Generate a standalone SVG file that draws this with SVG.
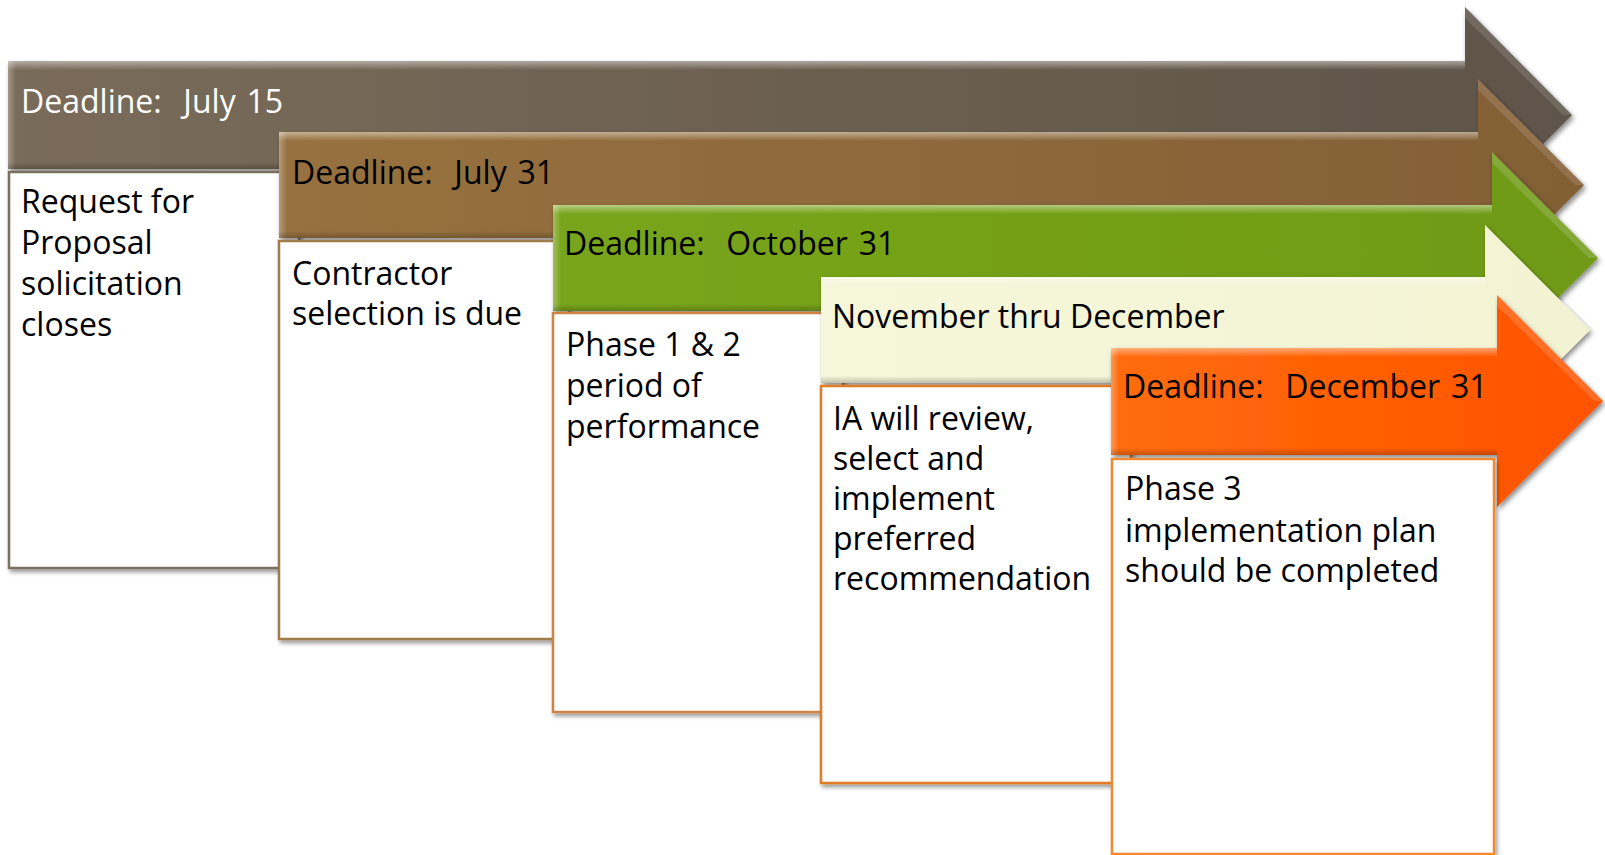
<svg xmlns="http://www.w3.org/2000/svg" width="1605" height="855" viewBox="0 0 1605 855">
<style>
  text { font-family: "Open Sans", "Liberation Sans", sans-serif; font-size: 32px; fill: #000; white-space: pre; }
  .dl { word-spacing: 2.5px; }
  .wt { fill: #ffffff; }
  .box { fill: #ffffff; stroke-width: 2.5; filter: url(#shB); }
  .arrow { filter: url(#shA); }
  .hlt { fill: url(#hlTop); }
  .hll { fill: url(#hlLeft); }
  .dkb { fill: url(#dkBot); }
</style>
<defs>
  <filter id="shA" x="-5%" y="-20%" width="110%" height="150%">
    <feDropShadow dx="2" dy="3" stdDeviation="2.5" flood-color="#000" flood-opacity="0.45"/>
  </filter>
  <filter id="shB" x="-5%" y="-5%" width="110%" height="115%">
    <feDropShadow dx="2" dy="3" stdDeviation="2" flood-color="#000" flood-opacity="0.4"/>
  </filter>
  <linearGradient id="g1" x1="0" y1="0" x2="1" y2="0"><stop offset="0" stop-color="#7a6c5a"/><stop offset="1" stop-color="#5d5448"/></linearGradient>
  <linearGradient id="g2" x1="0" y1="0" x2="1" y2="0"><stop offset="0" stop-color="#97713f"/><stop offset="1" stop-color="#835f36"/></linearGradient>
  <linearGradient id="g3" x1="0" y1="0" x2="1" y2="0"><stop offset="0" stop-color="#79a51b"/><stop offset="1" stop-color="#6f9a15"/></linearGradient>
  <linearGradient id="g4" x1="0" y1="0" x2="1" y2="0"><stop offset="0" stop-color="#f6f6da"/><stop offset="1" stop-color="#f3f3d4"/></linearGradient>
  <linearGradient id="g5" x1="0" y1="0" x2="1" y2="0"><stop offset="0" stop-color="#ff6c0a"/><stop offset="1" stop-color="#ff5200"/></linearGradient>
  <linearGradient id="hlTop" x1="0" y1="0" x2="0" y2="1"><stop offset="0" stop-color="#fff" stop-opacity="0.45"/><stop offset="1" stop-color="#fff" stop-opacity="0"/></linearGradient>
  <linearGradient id="hlLeft" x1="0" y1="0" x2="1" y2="0"><stop offset="0" stop-color="#fff" stop-opacity="0.3"/><stop offset="1" stop-color="#fff" stop-opacity="0"/></linearGradient>
  <linearGradient id="dkBot" x1="0" y1="0" x2="0" y2="1"><stop offset="0" stop-color="#000" stop-opacity="0"/><stop offset="1" stop-color="#000" stop-opacity="0.22"/></linearGradient>
</defs>

<g id="step1">
  <g class="arrow"><polygon points="8,61 1465,61 1465,7 1572,115 1465,223 1465,169 8,169" fill="url(#g1)"/></g>
  <rect class="hlt" x="8" y="61" width="1457" height="9"/>
  <rect class="hll" x="8" y="61" width="8" height="108"/>
  <rect class="dkb" x="8" y="162" width="1457" height="7"/>
  <polygon points="1465,7 1572,115 1563,115 1465,18" fill="#fff" fill-opacity="0.12"/>
  <text class="wt dl" x="21" y="113" xml:space="preserve">Deadline:  July 15</text>
  <rect class="box" x="9" y="172" width="290" height="396" stroke="#7a6f60"/>
  <text x="21" y="213">Request for</text>
  <text x="21" y="254">Proposal</text>
  <text x="21" y="295">solicitation</text>
  <text x="21" y="336">closes</text>
</g>

<g id="step2">
  <g class="arrow"><polygon points="279,132 1478,132 1478,79 1584,185 1478,291 1478,238 279,238" fill="url(#g2)"/></g>
  <rect class="hlt" x="279" y="132" width="1199" height="9"/>
  <rect class="hll" x="279" y="132" width="8" height="106"/>
  <rect class="dkb" x="279" y="231" width="1199" height="7"/>
  <polygon points="1478,79 1584,185 1575,185 1478,90" fill="#fff" fill-opacity="0.12"/>
  <text class="dl" x="292" y="184" xml:space="preserve">Deadline:  July 31</text>
  <rect class="box" x="279" y="241" width="290" height="398" stroke="#a07c4c"/>
  <text x="292" y="285">Contractor</text>
  <text x="292" y="325">selection is due</text>
</g>

<g id="step3">
  <g class="arrow"><polygon points="553,205 1492,205 1492,152 1598,258 1492,364 1492,311 553,311" fill="url(#g3)"/></g>
  <rect class="hlt" x="553" y="205" width="939" height="9"/>
  <rect class="hll" x="553" y="205" width="8" height="106"/>
  <rect class="dkb" x="553" y="304" width="939" height="7"/>
  <polygon points="1492,152 1598,258 1589,258 1492,163" fill="#fff" fill-opacity="0.15"/>
  <text class="dl" x="564" y="255" xml:space="preserve">Deadline:  October 31</text>
  <rect class="box" x="553" y="313" width="290" height="399" stroke="#cf8444"/>
  <text x="566" y="356">Phase 1 &amp; 2</text>
  <text x="566" y="397">period of</text>
  <text x="566" y="438">performance</text>
</g>

<g id="step4">
  <g class="arrow"><polygon points="821,277 1485,277 1485,225 1590,330 1485,435 1485,383 821,383" fill="url(#g4)"/></g>
  <rect class="hlt" x="821" y="277" width="664" height="9"/>
  <rect class="dkb" x="821" y="376" width="664" height="7"/>
  <text x="832" y="328">November thru December</text>
  <rect class="box" x="821" y="386" width="310" height="397" stroke="#e07b28"/>
  <text x="833" y="430">IA will review,</text>
  <text x="833" y="470">select and</text>
  <text x="833" y="510">implement</text>
  <text x="833" y="550">preferred</text>
  <text x="833" y="590">recommendation</text>
</g>

<g id="step5">
  <g class="arrow"><polygon points="1111,348 1497,348 1497,295 1603,401 1497,507 1497,455 1111,455" fill="url(#g5)"/></g>
  <rect class="hlt" x="1111" y="348" width="386" height="9"/>
  <rect class="hll" x="1111" y="348" width="8" height="107"/>
  <rect class="dkb" x="1111" y="448" width="386" height="7"/>
  <polygon points="1497,295 1603,401 1594,401 1497,306" fill="#fff" fill-opacity="0.15"/>
  <text class="dl" x="1123" y="398" xml:space="preserve">Deadline:  December 31</text>
  <rect class="box" x="1112" y="459" width="382" height="395" stroke="#f08a30"/>
  <text x="1125" y="500">Phase 3</text>
  <text x="1125" y="542">implementation plan</text>
  <text x="1125" y="582">should be completed</text>
</g>

<g id="connectors"></g>
</svg>
